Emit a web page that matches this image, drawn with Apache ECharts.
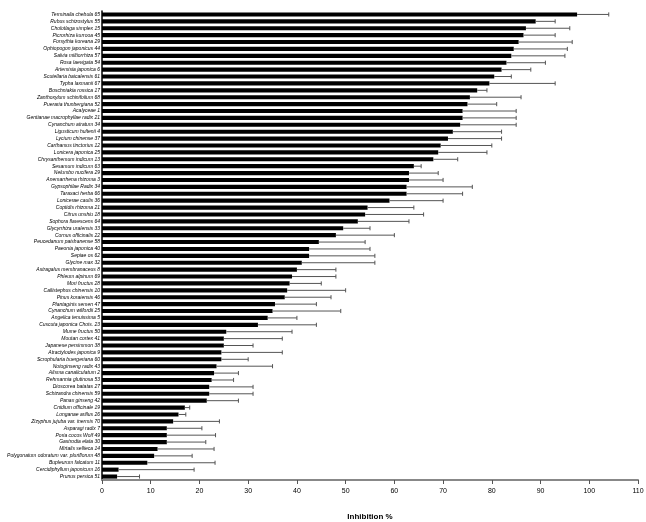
<!DOCTYPE html>
<html>
<head>
<meta charset="utf-8" />
<script src="https://cdn.jsdelivr.net/npm/echarts@6/dist/echarts.min.js"></script>
<style>
  html, body { margin: 0; padding: 0; background: #ffffff; }
  #bar-chart { width: 646px; height: 522px; }
</style>
</head>
<body>
<div id="bar-chart"></div>
<script>
// sample names, top to bottom
const names = [
  'Terminalia chebula 65', 'Rubus schizostylus 55', 'Cholotlaga simplex 15', 'Picrorhiza kurrooa 45',
  'Forsythia koreana 29', 'Ophiopogon japonicus 44', 'Salvia miltiorrhiza 57', 'Rosa laevigata 54',
  'Artemisia japonica 6', 'Scutellaria baicalensis 61', 'Typha laxmanii 67', 'Boschniakia rossica 17',
  'Zanthoxylum schinifolium 68', 'Pueraria thunbergiana 52', 'Acalyceae 1', 'Gentianae macrophyllae radix 21',
  'Cynanchum atratum 34', 'Ligusticum hultenii 4', 'Lycium chinense 37', 'Carthamus tinctorius 12',
  'Lonicera japonica 25', 'Chrysanthemum indicum 13', 'Sesamum indicum 63', 'Nelumbo nucifera 29',
  'Anemarrhena rhizoma 3', 'Gypsophilae Radix 34', 'Taraxaci herba 66', 'Lonicerae caulis 36',
  'Coptidis rhizoma 21', 'Citrus unshiu 18', 'Sophora flavescens 64', 'Glycyrrhiza uralensis 33',
  'Cornus officinalis 22', 'Peucedanum paishanense 58', 'Paeonia japonica 40', 'Sepiae os 62',
  'Glycine max 32', 'Astragalus membranaceus 8', 'Phleum alpinum 69', 'Mori fructus 28',
  'Callistephus chinensis 10', 'Pinus koraiensis 46', 'Plantaginis semen 47', 'Cynanchum wilfordii 25',
  'Angelica tenuissima 5', 'Cuscuta japonica Chois. 23', 'Mume fructus 50', 'Moutan cortex 41',
  'Japanese persimmon 38', 'Atractylodes japonica 9', 'Scrophularia buergeriana 60', 'Notoginseng radix 43',
  'Alisma canaliculatum 2', 'Rehmannia glutinosa 53', 'Dioscorea batatas 27', 'Schizandra chinensis 59',
  'Panax ginseng 42', 'Cnidium officinale 19', 'Longanae arillus 26', 'Zizyphus jujuba var. inermis 70',
  'Asparagi radix 7', 'Poria cocos Wolf 49', 'Gastrodia elata 30', 'Mirtalis sellieca 14',
  'Polygonatum odoratum var. pluriflorum 48', 'Bupleurum falcatum 11', 'Cercidiphyllum japonicum 16', 'Prunus persica 51'
]

// mean inhibition %
const values = [
  97.5, 89, 87, 86.5, 85.5, 84.5, 84, 83, 82, 80.5,
  79.5, 77, 75.5, 75, 74, 74, 73.5, 72, 71, 69.5,
  69, 68, 64, 63, 63, 62.5, 62.5, 59, 54.5, 54,
  52.5, 49.5, 48, 44.5, 42.5, 42.5, 41, 40, 39, 38.5,
  38, 37.5, 35.5, 35, 34, 32, 25.5, 25, 25, 24.5,
  24.5, 23.5, 23, 22.5, 22, 22, 21.5, 17, 15.7, 14.6,
  13.3, 13.3, 13.3, 11.4, 10.7, 9.3, 3.4, 3.1
]

// error (SD)
const errors = [
  6.5, 4, 9, 6.5, 11, 11, 11, 8, 6, 3.5,
  13.5, 2, 10.5, 6, 11, 11, 11.5, 10, 11, 10.5,
  10, 5, 1.5, 6, 7, 13.5, 11.5, 11, 9.5, 12,
  10.5, 5.5, 12, 9.5, 12.5, 13.5, 15, 8, 9, 6.5,
  12, 9.5, 8.5, 14, 6, 12, 13.5, 12, 6, 12.5,
  5.5, 11.5, 5, 4.5, 9, 9, 6.5, 1, 1.5, 9.5,
  7.2, 10, 8, 11.6, 7.8, 13.9, 15.5, 4.6
]

const xTicks = [0, 10, 20, 30, 40, 50, 60, 70, 80, 90, 100, 110]

const errData = values.map((v, i) => [i, v, v + errors[i]])

const myChart = echarts.init(document.getElementById('bar-chart'))

const options = {
  animation: false,
  grid: {
    top: 11,
    left: 102,
    right: 8,
    bottom: 42,
    outerBoundsMode: 'none'
  },
  xAxis: {
    type: 'value',
    min: xTicks[0],
    max: xTicks[xTicks.length - 1],
    interval: 10,
    name: 'Inhibition %',
    nameLocation: 'middle',
    nameGap: 33,
    nameTextStyle: {
      fontFamily: 'Liberation Sans',
      fontWeight: 'bold',
      fontSize: 8,
      color: '#000'
    },
    axisLine: {
      show: true,
      lineStyle: { color: '#888', width: 2 } // x轴线
    },
    axisTick: {
      show: true,
      length: 4,
      lineStyle: { color: '#555' }
    },
    axisLabel: {
      fontFamily: 'Liberation Sans',
      fontSize: 7,
      color: '#000',
      margin: 8
    },
    splitLine: { show: false }
  },
  yAxis: {
    type: 'category',
    data: names,
    inverse: true,
    axisLine: {
      show: true,
      lineStyle: { color: '#000', width: 1.5 }
    },
    axisTick: { show: false },
    axisLabel: {
      interval: 0,
      fontFamily: 'Liberation Sans',
      fontStyle: 'italic',
      fontSize: 5,
      color: '#000',
      margin: 2
    }
  },
  series: [
    {
      type: 'bar',
      data: values,
      barCategoryGap: '40%',
      itemStyle: { color: '#000' },
      z: 2
    },
    {
      type: 'custom',
      data: errData,
      encode: { x: [1, 2], y: 0 },
      z: 3,
      renderItem: (params, api) => {
        const i = api.value(0)
        const from = api.coord([api.value(1), i])
        const to = api.coord([api.value(2), i])
        const half = api.size([0, 1])[1] * 0.3
        const style = { stroke: '#555', lineWidth: 1 }
        return {
          type: 'group',
          children: [
            { type: 'line', shape: { x1: from[0], y1: from[1], x2: to[0], y2: to[1] }, style },
            { type: 'line', shape: { x1: to[0], y1: to[1] - half, x2: to[0], y2: to[1] + half }, style }
          ]
        }
      }
    }
  ]
}
myChart.setOption(options)
</script>
</body>
</html>
